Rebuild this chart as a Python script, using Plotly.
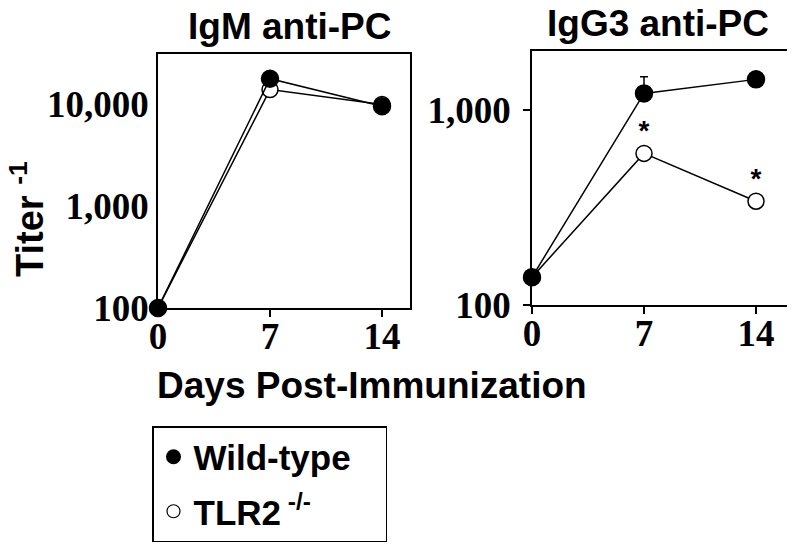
import plotly.graph_objects as go

# ---- data ----
days = [0, 7, 14]
day_ticks = [0, 7, 14]
day_labels = ["0", "7", "14"]

igm_wt = [100, 17500, 9400]
igm_tlr2 = [100, 13700, 9800]

igg3_wt = [139, 1220, 1440]
igg3_wt_err_up = [0, 265, 0]
igg3_tlr2 = [139, 600, 341]
igg3_sig = ["", "*", "*"]

igm_yticks = [100, 1000, 10000]
igm_ylabels = ["100", "1,000", "10,000"]
igg3_yticks = [100, 1000]
igg3_ylabels = ["100", "1,000"]

# page has an 8px body margin; paper is the remaining area
OFF = 8
W, H = 795 - OFF, 544 - OFF


def fx(px):
    return (px - OFF) / W


def fy(py):
    return 1 - (py - OFF) / H


SANS = "Liberation Sans, Arial, sans-serif"
SERIF = "Liberation Serif, Times New Roman, serif"

fig = go.Figure()

line_style = dict(color="black", width=1.5)
open_marker = dict(symbol="circle", size=16, color="white", line=dict(color="black", width=1.5))
fill_marker = dict(symbol="circle", size=17, color="black", line=dict(color="black", width=1.5))

# Left panel: IgM
fig.add_trace(go.Scatter(x=days, y=igm_tlr2, mode="lines+markers", line=line_style,
                         marker=open_marker, showlegend=False, cliponaxis=False,
                         xaxis="x", yaxis="y"))
fig.add_trace(go.Scatter(x=days, y=igm_wt, mode="lines+markers", line=line_style,
                         marker=fill_marker, showlegend=False, cliponaxis=False,
                         xaxis="x", yaxis="y"))

# Right panel: IgG3
fig.add_trace(go.Scatter(x=days, y=igg3_tlr2, mode="lines+markers", line=line_style,
                         marker=open_marker, showlegend=False, cliponaxis=False,
                         xaxis="x2", yaxis="y2"))
fig.add_trace(go.Scatter(x=days, y=igg3_wt, mode="lines+markers", line=line_style,
                         marker=fill_marker, showlegend=False, cliponaxis=False,
                         error_y=dict(type="data", symmetric=False, array=igg3_wt_err_up,
                                      arrayminus=[0, 0, 0], color="black", thickness=1.5, width=4),
                         xaxis="x2", yaxis="y2"))
# significance asterisks above TLR2 points
fig.add_trace(go.Scatter(x=days, y=igg3_tlr2, mode="markers+text", text=igg3_sig,
                         textposition="top center",
                         marker=dict(size=8, color="rgba(0,0,0,0)"),
                         textfont=dict(family=SANS, size=28, color="black", weight="bold"),
                         showlegend=False, cliponaxis=False, hoverinfo="skip",
                         xaxis="x2", yaxis="y2"))

# Legend entries
fig.add_trace(go.Scatter(x=[None], y=[None], mode="markers", name="Wild-type\u00a0\u00a0\u00a0",
                         marker=dict(symbol="circle", size=15, color="black"),
                         legendgroup="wt", xaxis="x", yaxis="y"))
fig.add_trace(go.Scatter(x=[None], y=[None], mode="markers", name="TLR2<sup> -/-</sup>",
                         marker=dict(symbol="circle", size=13, color="white",
                                     line=dict(color="black", width=1.2)),
                         legendgroup="tlr2", xaxis="x", yaxis="y"))

tickfont = dict(family=SERIF, size=37, color="black", weight="bold")

xcommon = dict(tickmode="array", tickvals=day_ticks, ticktext=day_labels, ticks="outside",
               ticklen=7, tickwidth=1.5, tickcolor="black", showline=True, linecolor="black",
               linewidth=1.5, mirror=True, showgrid=False, zeroline=False, tickfont=tickfont,
               ticklabelstandoff=-12, automargin=False)

fig.update_layout(
    width=W, height=H,
    margin=dict(l=0, r=0, t=0, b=0),
    paper_bgcolor="white", plot_bgcolor="white",
    xaxis=dict(domain=[fx(158), fx(410)], range=[0, 15.75], anchor="y", **xcommon),
    yaxis=dict(domain=[fy(308), fy(54)], type="log", range=[2, 4.485], anchor="x",
               tickmode="array", tickvals=igm_yticks, ticktext=igm_ylabels, ticks="",
               ticklabelstandoff=0, automargin=False,
               showline=True, linecolor="black", linewidth=1.5, mirror=True,
               showgrid=False, zeroline=False, tickfont=tickfont),
    xaxis2=dict(domain=[fx(532), fx(788)], range=[0, 16], anchor="y2", **xcommon),
    yaxis2=dict(domain=[fy(305), fy(51)], type="log", range=[2, 3.304], anchor="x2",
                tickmode="array", tickvals=igg3_yticks, ticktext=igg3_ylabels, ticks="outside",
                ticklen=7, tickwidth=1.5, tickcolor="black", ticklabelstandoff=5, automargin=False,
                showline=True, linecolor="black", linewidth=1.5, mirror=True,
                showgrid=False, zeroline=False, tickfont=tickfont),
    legend=dict(x=fx(152), y=fy(426), xanchor="left", yanchor="top",
                bordercolor="black", borderwidth=1.5, bgcolor="white",
                font=dict(family=SANS, size=35, color="black", weight="bold"),
                traceorder="grouped", tracegroupgap=6, itemsizing="trace"),
    showlegend=True,
)

title_font = dict(family=SANS, size=37, color="black", weight="bold")
fig.add_annotation(text="IgM anti-PC", x=fx(289), y=fy(27), xref="paper", yref="paper",
                   xanchor="center", yanchor="middle", showarrow=False, font=title_font)
fig.add_annotation(text="IgG3 anti-PC", x=fx(658), y=fy(23), xref="paper", yref="paper",
                   xanchor="center", yanchor="middle", showarrow=False, font=title_font)
fig.add_annotation(text="Days Post-Immunization", x=fx(372), y=fy(385), xref="paper", yref="paper",
                   xanchor="center", yanchor="middle", showarrow=False, font=title_font)
fig.add_annotation(text="Titer <sup>-1</sup>", x=fx(27), y=fy(219), xref="paper", yref="paper",
                   xanchor="center", yanchor="middle", showarrow=False, textangle=-90,
                   font=dict(family=SANS, size=38, color="black", weight="bold"))

fig.write_html("out.html")
